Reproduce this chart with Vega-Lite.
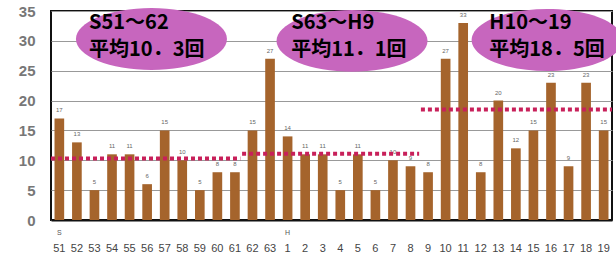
{
  "$schema": "https://vega.github.io/schema/vega-lite/v6.json",
  "width": 561,
  "height": 209,
  "autosize": {"type": "none"},
  "padding": {"left": 51, "top": 11, "right": 4, "bottom": 38},
  "background": "white",
  "config": {
    "view": {"stroke": "#111", "strokeWidth": 2},
    "font": "Noto Sans CJK JP",
    "axisY": {
      "title": null, "grid": true, "gridColor": "#999", "gridWidth": 1, "domain": false, "ticks": false,
      "labelFont": "Liberation Sans", "labelFontSize": 15, "labelFontWeight": "bold",
      "labelColor": "#777", "labelPadding": 16
    }
  },
  "datasets": {
    "counts": [
      {"key": "S51", "count": 17, "era": "S"}, {"key": "S52", "count": 13, "era": ""},
      {"key": "S53", "count": 5, "era": ""}, {"key": "S54", "count": 11, "era": ""},
      {"key": "S55", "count": 11, "era": ""}, {"key": "S56", "count": 6, "era": ""},
      {"key": "S57", "count": 15, "era": ""}, {"key": "S58", "count": 10, "era": ""},
      {"key": "S59", "count": 5, "era": ""}, {"key": "S60", "count": 8, "era": ""},
      {"key": "S61", "count": 8, "era": ""}, {"key": "S62", "count": 15, "era": ""},
      {"key": "S63", "count": 27, "era": ""}, {"key": "H1", "count": 14, "era": "H"},
      {"key": "H2", "count": 11, "era": ""}, {"key": "H3", "count": 11, "era": ""},
      {"key": "H4", "count": 5, "era": ""}, {"key": "H5", "count": 11, "era": ""},
      {"key": "H6", "count": 5, "era": ""}, {"key": "H7", "count": 10, "era": ""},
      {"key": "H8", "count": 9, "era": ""}, {"key": "H9", "count": 8, "era": ""},
      {"key": "H10", "count": 27, "era": ""}, {"key": "H11", "count": 33, "era": ""},
      {"key": "H12", "count": 8, "era": ""}, {"key": "H13", "count": 20, "era": ""},
      {"key": "H14", "count": 12, "era": ""}, {"key": "H15", "count": 15, "era": ""},
      {"key": "H16", "count": 23, "era": ""}, {"key": "H17", "count": 9, "era": ""},
      {"key": "H18", "count": 23, "era": ""}, {"key": "H19", "count": 15, "era": ""}
    ],
    "avg": [
      {"x0": 0, "x1": 10.8, "avg": 10.3},
      {"x0": 10.9, "x1": 21.0, "avg": 11.1},
      {"x0": 21.1, "x1": 32, "avg": 18.5}
    ],
    "notes": [
      {"cx": 5.73, "cy": 30.3, "tx": 2.17, "ty1": 33.0, "ty2": 28.5, "line1": "S51～62", "line2": "平均10．3回"},
      {"cx": 17.17, "cy": 30.0, "tx": 13.7, "ty1": 33.0, "ty2": 28.5, "line1": "S63～H9", "line2": "平均11．1回"},
      {"cx": 28.3, "cy": 30.15, "tx": 25.0, "ty1": 33.0, "ty2": 28.5, "line1": "H10～19", "line2": "平均18．5回"}
    ]
  },
  "layer": [
    {
      "data": {"name": "counts"},
      "encoding": {
        "x": {
          "field": "key", "type": "nominal", "sort": null,
          "scale": {"paddingInner": 0.45, "paddingOuter": 0.2},
          "axis": {
            "title": null, "labelExpr": "slice(datum.label, 1)", "labelAngle": 0,
            "labelFont": "Liberation Sans", "labelFontSize": 11, "labelColor": "#444",
            "ticks": false, "domain": true, "domainColor": "#111", "domainWidth": 2,
            "labelPadding": 22
          }
        },
        "y": {
          "field": "count", "type": "quantitative",
          "scale": {"domain": [0, 35], "nice": false},
          "axis": {"values": [0, 5, 10, 15, 20, 25, 30, 35]}
        }
      },
      "layer": [
        {"mark": {"type": "bar", "color": "#A5642C"}},
        {"mark": {"type": "text", "fontSize": 6, "color": "#666", "dy": -5, "baseline": "bottom", "font": "Liberation Sans"},
         "encoding": {"text": {"field": "count", "type": "quantitative"}}},
        {"transform": [{"filter": "datum.era != ''"}],
         "mark": {"type": "text", "fontSize": 7, "color": "#555", "dy": 13, "baseline": "middle", "font": "Liberation Sans"},
         "encoding": {"y": {"datum": 0, "axis": {"values": [0, 5, 10, 15, 20, 25, 30, 35]}}, "text": {"field": "era", "type": "nominal"}}}
      ]
    },
    {
      "data": {"name": "avg"},
      "mark": {"type": "rule", "color": "#C8205A", "strokeWidth": 4, "strokeDash": [4, 3]},
      "encoding": {
        "x": {"field": "x0", "type": "quantitative", "scale": {"domain": [0, 32], "nice": false, "zero": false}, "axis": null},
        "x2": {"field": "x1"},
        "y": {"field": "avg", "type": "quantitative", "axis": {"values": [0, 5, 10, 15, 20, 25, 30, 35]}}
      }
    },
    {
      "data": {"name": "notes"},
      "layer": [
        {
          "mark": {"type": "point", "shape": "M-1,0 A1,0.41 0 1,0 1,0 A1,0.41 0 1,0 -1,0 Z", "filled": true, "color": "#C766BE", "opacity": 1, "size": 22800},
          "encoding": {
            "x": {"field": "cx", "type": "quantitative", "scale": {"domain": [0, 32], "nice": false, "zero": false}, "axis": null},
            "y": {"field": "cy", "type": "quantitative", "axis": {"values": [0, 5, 10, 15, 20, 25, 30, 35]}}
          }
        },
        {
          "mark": {"type": "text", "fontSize": 20, "fontWeight": "bold", "align": "left", "baseline": "middle", "color": "#000"},
          "encoding": {
            "x": {"field": "tx", "type": "quantitative", "scale": {"domain": [0, 32], "nice": false, "zero": false}, "axis": null},
            "y": {"field": "ty1", "type": "quantitative", "axis": {"values": [0, 5, 10, 15, 20, 25, 30, 35]}},
            "text": {"field": "line1", "type": "nominal"}
          }
        },
        {
          "mark": {"type": "text", "fontSize": 20, "fontWeight": "bold", "align": "left", "baseline": "middle", "color": "#000"},
          "encoding": {
            "x": {"field": "tx", "type": "quantitative", "scale": {"domain": [0, 32], "nice": false, "zero": false}, "axis": null},
            "y": {"field": "ty2", "type": "quantitative", "axis": {"values": [0, 5, 10, 15, 20, 25, 30, 35]}},
            "text": {"field": "line2", "type": "nominal"}
          }
        }
      ]
    }
  ],
  "resolve": {"scale": {"x": "independent"}}
}
